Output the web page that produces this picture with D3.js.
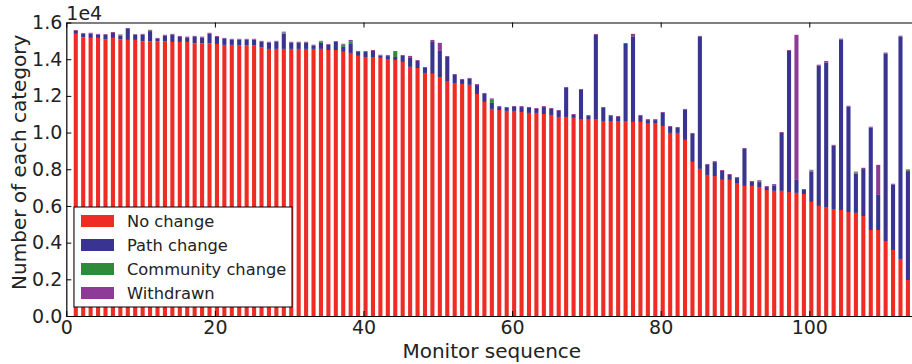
<!DOCTYPE html>
<html>
<head>
<meta charset="utf-8">
<script src="https://cdn.jsdelivr.net/npm/d3@7"></script>
<style>
  html, body { margin: 0; padding: 0; background: #fff; }
  svg { display: block; font-family: "DejaVu Sans", sans-serif; }
</style>
</head>
<body>
<div id="chart"></div>
<script>
// ---- data ----
const noChange = [15380,15190,15160,15160,15090,15160,15090,15050,15050,14980,
14980,14980,14980,14940,14940,14940,14870,14870,14870,14830,
14780,14780,14740,14740,14740,14630,14560,14560,14560,14560,
14560,14560,14560,14560,14500,14500,14400,14340,14180,14120,
14120,14070,14010,13960,13850,13580,13520,13250,13200,13030,
12810,12700,12650,12600,12100,11670,11290,11230,11180,11180,
11120,11070,11070,11010,10960,10850,10850,10800,10740,10740,
10740,10630,10630,10630,10630,10580,10580,10520,10520,10360,
9980,9980,9600,8400,8020,7690,7630,7420,7420,7250,
7090,7090,7030,6870,6820,6820,6760,6710,6650,6220,
6000,5940,5830,5780,5670,5620,5450,4690,4690,4090,
3600,3110,1960];
const pathChange = [160,200,240,180,240,270,200,600,270,360,
550,130,310,400,270,250,350,310,530,380,
330,290,330,330,330,330,350,400,840,350,
350,350,180,330,290,450,270,490,220,270,
330,130,160,160,330,490,380,270,1740,1420,
1310,440,220,330,490,440,330,160,160,220,
270,270,220,380,330,330,1580,160,1580,160,
4580,710,270,220,4200,4640,330,160,160,710,
330,270,1640,1530,7200,550,760,490,270,270,
2020,220,270,160,270,3160,7690,710,220,1640,
7650,7870,3450,9290,5740,2150,2560,5580,1910,10220,
3560,12120,5940];
const communityChange = [0,0,0,0,0,0,40,0,0,0,
50,0,0,0,0,0,0,0,0,0,
0,0,0,0,0,0,0,0,50,0,
0,0,0,70,0,0,130,150,0,0,
0,0,0,270,0,0,0,0,0,0,
0,0,0,0,0,0,200,0,0,0,
0,0,0,0,0,0,0,0,0,0,
0,0,0,0,0,0,0,0,0,0,
0,0,0,0,0,0,0,0,0,0,
0,0,50,0,50,0,0,0,0,70,
0,0,0,0,0,50,0,0,0,0,
0,0,50];
const withdrawn = [50,40,40,40,40,50,20,50,40,40,
20,50,40,40,50,40,50,50,40,50,
50,40,40,40,40,40,40,40,50,40,
40,40,50,40,40,40,40,70,50,50,
50,40,50,50,50,110,50,50,110,440,
50,50,50,50,50,50,40,50,50,50,
50,50,50,50,50,50,50,50,50,50,
50,50,50,50,50,160,50,50,50,50,
50,50,50,50,50,50,50,50,50,50,
50,50,50,50,50,50,50,7910,50,40,
50,90,50,50,50,50,70,50,1640,50,
50,50,40];
const seriesNames = ["No change", "Path change", "Community change", "Withdrawn"];
const seriesKeys = ["noChange", "pathChange", "communityChange", "withdrawn"];
const xTickValues = [0, 20, 40, 60, 80, 100];
const yTickValues = [0, 2000, 4000, 6000, 8000, 10000, 12000, 14000, 16000];
const colors = ["#ee2b24", "#38348f", "#2e8b3a", "#8e3b97"];

// ---- build table ----
const rows = noChange.map((v, i) => ({
  monitor: i + 1,
  noChange: v,
  pathChange: pathChange[i],
  communityChange: communityChange[i],
  withdrawn: withdrawn[i]
}));

const W = 912, H = 364;
const mLeft = 66.3, mRight = 913.3, mTop = 22.5, mBottom = 316;

const svg = d3.select("#chart").append("svg").attr("width", W).attr("height", H);

const x = d3.scaleLinear().domain([0, 114]).range([mLeft, mRight]);
const y = d3.scaleLinear().domain([0, 16000]).range([mBottom, mTop]);
const barW = 0.55;

const stack = d3.stack().keys(seriesKeys)(rows);

svg.append("g").selectAll("g").data(stack).join("g")
  .attr("fill", (d, i) => colors[i])
  .selectAll("rect").data(d => d).join("rect")
  .attr("x", d => x(d.data.monitor))
  .attr("width", d => x(d.data.monitor + barW) - x(d.data.monitor))
  .attr("y", d => y(d[1]))
  .attr("height", d => Math.max(0, y(d[0]) - y(d[1])));

// axes
const fontTick = 19;
const yAxis = svg.append("g").attr("transform", `translate(${mLeft},0)`)
  .call(d3.axisLeft(y).tickValues(yTickValues).tickFormat(d => (d / 1e4).toFixed(1))
    .tickSizeInner(-5).tickSizeOuter(0).tickPadding(4));
const xAxis = svg.append("g").attr("transform", `translate(0,${mBottom})`)
  .call(d3.axisBottom(x).tickValues(xTickValues).tickFormat(d3.format("d"))
    .tickSizeInner(-5).tickSizeOuter(0).tickPadding(5));
const xTop = svg.append("g").attr("transform", `translate(0,${mTop})`)
  .call(d3.axisTop(x).tickValues(xTickValues).tickFormat("")
    .tickSizeInner(-5).tickSizeOuter(0));
[yAxis, xAxis, xTop].forEach(g => {
  g.selectAll("text").attr("font-size", fontTick).attr("font-family", "DejaVu Sans").attr("fill", "#222");
  g.select(".domain").attr("stroke", "#000").attr("stroke-width", 1.2);
  g.selectAll(".tick line").attr("stroke", "#000").attr("stroke-width", 1);
});

// offset text
svg.append("text").attr("x", mLeft).attr("y", 20)
  .attr("font-size", 19).attr("fill", "#222").text("1e4");

// axis labels
svg.append("text").attr("x", (mLeft + mRight) / 2 + 2).attr("y", 358)
  .attr("text-anchor", "middle").attr("font-size", 20).attr("fill", "#222")
  .text("Monitor sequence");
svg.append("text")
  .attr("transform", `translate(26,${(mTop + mBottom) / 2 - 7}) rotate(-90)`)
  .attr("text-anchor", "middle").attr("font-size", 20).attr("fill", "#222")
  .text("Number of each category");

// legend
const lg = svg.append("g").attr("transform", "translate(74,207)");
lg.append("rect").attr("width", 218).attr("height", 100)
  .attr("fill", "#fff").attr("stroke", "#000").attr("stroke-width", 1);
seriesNames.forEach((name, i) => {
  const cy = 14 + i * 24;
  lg.append("rect").attr("x", 7).attr("y", cy - 6).attr("width", 33).attr("height", 12)
    .attr("fill", colors[i]);
  lg.append("text").attr("x", 53).attr("y", cy + 6)
    .attr("font-size", 16.3).attr("fill", "#222").text(name);
});
</script>
</body>
</html>
